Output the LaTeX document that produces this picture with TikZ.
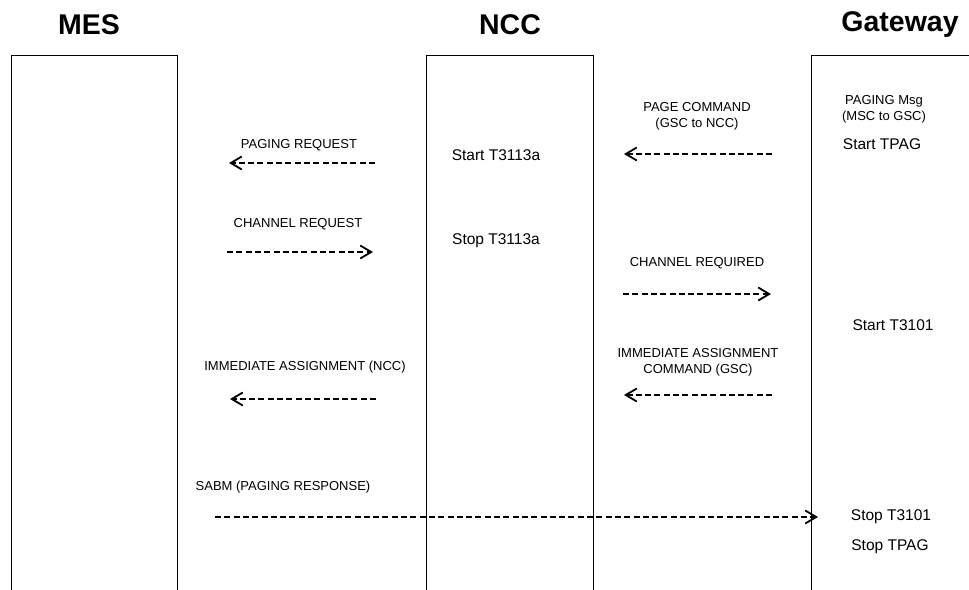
\documentclass[tikz,border=0pt]{standalone}
\usepackage{fontspec}
\setmainfont{Liberation Sans}
\usetikzlibrary{arrows.meta}
\begin{document}
\begin{tikzpicture}[x=1pt,y=-1pt,
  lifeline/.style={draw=black,line width=1pt},
  title/.style={font=\bfseries\fontsize{28.5}{32}\selectfont,inner sep=0pt},
  lbl/.style={font=\fontsize{13}{16}\selectfont,inner sep=0pt,align=center},
  tmr/.style={font=\fontsize{15.5}{18}\selectfont,inner sep=0pt},
  msg/.style={line width=2.5pt,dash pattern=on 6pt off 3.3pt,
    -{Straight Barb[length=11pt,width=13pt,line width=1.8pt]}}]
\useasboundingbox (0,0) rectangle (969,589);
% lifeline boxes
\draw[lifeline] (11,600) -- (11,55) -- (177,55) -- (177,600);
\draw[lifeline] (426,600) -- (426,55) -- (593,55) -- (593,600);
\draw[lifeline] (811,600) -- (811,55) -- (980,55);
% titles
\node[title] (tmes) at (89,25) {MES};
\node[title] (tncc) at (510,25) {NCC};
\node[title] (tgw) at (900,25) {Gateway};
% gateway texts
\node[lbl] (pgmsg) at (884,109) {PAGING Msg\\(MSC to GSC)};
\node[tmr] (stpag) at (882,144) {Start TPAG};
\node[tmr] (s3101) at (893,325) {Start T3101};
\node[tmr] (p3101) at (891,517) {Stop T3101};
\node[tmr] (ptpag) at (890,547) {Stop TPAG};
% NCC texts
\node[tmr] (s3113) at (496,155) {Start T3113a};
\node[tmr] (p3113) at (496,241) {Stop T3113a};
% left labels
\node[lbl] (l1) at (299,145) {PAGING REQUEST};
\node[lbl] (l2) at (298,224) {CHANNEL REQUEST};
\node[lbl] (l3) at (305,367) {IMMEDIATE ASSIGNMENT (NCC)};
\node[lbl] (l4) at (283,487) {SABM (PAGING RESPONSE)};
% right labels
\node[lbl] (r1) at (697,116) {PAGE COMMAND\\(GSC to NCC)};
\node[lbl] (r2) at (697,263) {CHANNEL REQUIRED};
\node[lbl] (r3) at (698,362) {IMMEDIATE ASSIGNMENT\\COMMAND (GSC)};
% arrow end points
\coordinate (a1s) at (375,163); \coordinate (a1e) at (229,163);
\coordinate (a2s) at (227,252); \coordinate (a2e) at (373,252);
\coordinate (a3s) at (376,399); \coordinate (a3e) at (230,399);
\coordinate (a4s) at (215,517); \coordinate (a4e) at (818,517);
\coordinate (b1s) at (772,154); \coordinate (b1e) at (624,154);
\coordinate (b2s) at (623,294); \coordinate (b2e) at (771,294);
\coordinate (b3s) at (772,395); \coordinate (b3e) at (624,395);
% messages
\draw[msg] (a1s) -- (a1e);
\draw[msg] (a2s) -- (a2e);
\draw[msg] (a3s) -- (a3e);
\draw[msg] (a4s) -- (a4e);
\draw[msg] (b1s) -- (b1e);
\draw[msg] (b2s) -- (b2e);
\draw[msg] (b3s) -- (b3e);
\end{tikzpicture}
\end{document}
